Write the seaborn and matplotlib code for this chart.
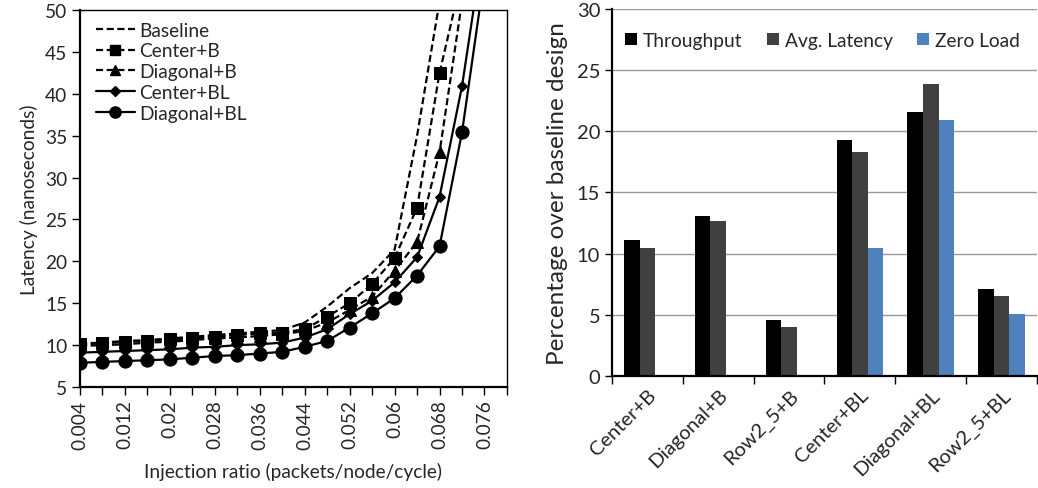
import matplotlib
matplotlib.use("Agg")
import matplotlib.pyplot as plt
import seaborn as sns
import pandas as pd
import numpy as np
from matplotlib.lines import Line2D

sns.set_theme(style="white")
plt.rcParams['font.family'] = ['Lato', 'DejaVu Sans']

# ---------------- data: left line chart ----------------
injection = [0.004, 0.008, 0.012, 0.016, 0.020, 0.024, 0.028, 0.032, 0.036, 0.040,
             0.044, 0.048, 0.052, 0.056, 0.060, 0.064, 0.068, 0.072, 0.076, 0.080]
baseline = [10.2, 10.3, 10.5, 10.6, 10.8, 11.0, 11.2, 11.4, 11.6, 11.8,
            12.7, 14.6, 16.8, 18.6, 21.4, 35.0, 51.0]
center_b = [10.1, 10.2, 10.4, 10.5, 10.7, 10.8, 11.0, 11.2, 11.4, 11.5,
            11.9, 13.4, 15.0, 17.3, 20.4, 26.4, 42.5, 54.0]
diagonal_b = [9.9, 10.0, 10.1, 10.3, 10.4, 10.6, 10.8, 10.9, 11.1, 11.3,
              11.7, 12.7, 14.2, 15.8, 18.9, 22.3, 33.0, 51.0]
center_bl = [9.1, 9.2, 9.3, 9.4, 9.5, 9.7, 9.8, 10.0, 10.1, 10.3,
             10.9, 11.9, 13.7, 15.3, 17.5, 20.5, 27.7, 40.9, 58.7]
diagonal_bl = [7.9, 8.0, 8.1, 8.2, 8.3, 8.5, 8.7, 8.8, 9.0, 9.2,
               9.8, 10.5, 12.1, 13.8, 15.6, 18.3, 21.8, 35.4, 54.2]
x_tick_labels = ["0.004", "0.012", "0.02", "0.028", "0.036",
                 "0.044", "0.052", "0.06", "0.068", "0.076"]

# ---------------- data: right bar chart ----------------
designs = ["Center+B", "Diagonal+B", "Row2_5+B", "Center+BL", "Diagonal+BL", "Row2_5+BL"]
throughput = [11.1, 13.1, 4.55, 19.3, 21.6, 7.1]
avg_latency = [10.5, 12.7, 4.0, 18.3, 23.9, 6.5]
zero_load = [0.0, 0.0, 0.0, 10.5, 20.9, 5.07]
metrics = ["Throughput", "Avg. Latency", "Zero Load"]

fig = plt.figure(figsize=(10.38, 4.89), dpi=100)
ax1 = fig.add_axes([0.0771, 0.2065, 0.4113, 0.771])
ax2 = fig.add_axes([0.5896, 0.229, 0.4094, 0.7506])

FS = 13.8

# ---------------- left chart ----------------
dash = (0, (3.2, 1.6))
series = [
    ("Baseline", baseline, dash, None, 0),
    ("Center+B", center_b, dash, "s", 8.5),
    ("Diagonal+B", diagonal_b, dash, "^", 8.5),
    ("Center+BL", center_bl, "-", "D", 5.5),
    ("Diagonal+BL", diagonal_bl, "-", "o", 9.5),
]
handles = []
for name, vals, ls, mk, ms in series:
    xs = injection[:len(vals)]
    sns.lineplot(x=xs, y=vals, ax=ax1, color="black", linestyle=ls, lw=1.6,
                 marker=mk, markersize=ms, markeredgecolor="black",
                 markerfacecolor="black", clip_on=True, legend=False,
                 estimator=None, sort=False)
    handles.append(Line2D([], [], color="black", linestyle=ls, lw=1.6, marker=mk,
                          markersize=ms * 0.85 if mk else 0, markerfacecolor="black",
                          label=name))

ax1.set_xlim(injection[0], injection[-1])
ax1.set_ylim(5, 50)
ax1.set_yticks(range(5, 51, 5))
ax1.set_xticks(injection, minor=True)
ax1.set_xticks(injection[0:-1:2])
ax1.set_xticklabels(x_tick_labels, rotation=90)
ax1.tick_params(axis="x", which="both", direction="out", length=6, width=1, color="black",
                bottom=True, labelsize=FS, pad=3)
ax1.tick_params(axis="y", direction="out", length=6, width=1, color="black", left=True,
                labelsize=FS, pad=3)
for s in ax1.spines.values():
    s.set_color("black")
    s.set_linewidth(1.0)
ax1.spines["left"].set_linewidth(1.6)
ax1.spines["bottom"].set_linewidth(1.6)
ax1.set_xlabel("Injection ratio (packets/node/cycle)", fontsize=FS, labelpad=10)
ax1.set_ylabel("Latency (nanoseconds)", fontsize=FS, labelpad=5)
ax1.legend(handles=handles, loc="upper left", frameon=False, fontsize=FS,
           handlelength=2.05, handletextpad=0.2, labelspacing=0.2,
           borderaxespad=0.2, bbox_to_anchor=(0.01, 1.0))

# ---------------- right chart ----------------
df = pd.DataFrame({
    "design": designs * 3,
    "metric": [metrics[0]] * 6 + [metrics[1]] * 6 + [metrics[2]] * 6,
    "value": throughput + avg_latency + zero_load,
})
palette = {"Throughput": "#000000", "Avg. Latency": "#404040", "Zero Load": "#4F81BD"}
sns.barplot(data=df, x="design", y="value", hue="metric", hue_order=metrics,
            order=designs, palette=palette, width=0.66, ax=ax2, saturation=1,
            edgecolor="none", linewidth=0)
ax2.set_xlim(-0.5, len(designs) - 0.5)
ax2.set_ylim(0, 30)
ax2.set_yticks(range(0, 31, 5))
ax2.yaxis.grid(True, color="#9a9a9a", lw=1.0)
ax2.set_axisbelow(True)
ax2.set_xticks(np.arange(-0.5, len(designs), 1.0), minor=True)
ax2.tick_params(axis="x", which="minor", direction="out", length=6, width=1, color="black",
                bottom=True)
ax2.tick_params(axis="x", which="major", length=0, pad=7)
ax2.set_xticks(range(len(designs)))
ax2.set_xticklabels(designs, rotation=45, ha="right", rotation_mode="anchor", fontsize=14.5)
ax2.tick_params(axis="y", direction="out", length=5, width=1, color="black", left=True,
                labelsize=14.5)
for side in ["top", "right"]:
    ax2.spines[side].set_visible(False)
ax2.spines["left"].set_color("black")
ax2.spines["left"].set_linewidth(1.6)
ax2.spines["bottom"].set_color("black")
ax2.spines["bottom"].set_linewidth(1.6)
ax2.set_xlabel("")
ax2.set_ylabel("Percentage over baseline design", fontsize=17.5, labelpad=6)
ax2.legend(loc="upper center", ncol=3, frameon=False, fontsize=13.8,
           handlelength=0.65, handleheight=0.65, handletextpad=0.3, columnspacing=1.25,
           bbox_to_anchor=(0.495, 0.985))

fig.savefig("out.png", dpi=100)
